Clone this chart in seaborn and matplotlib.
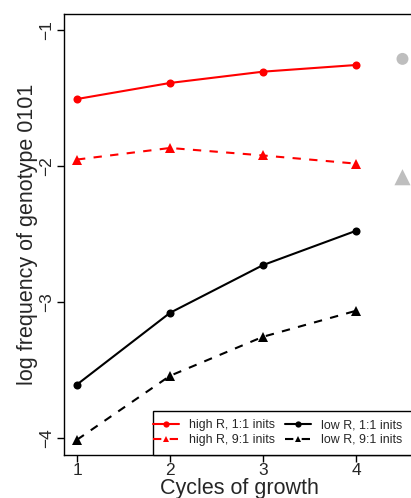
import matplotlib
matplotlib.use("Agg")
import matplotlib.pyplot as plt
from matplotlib.patches import Rectangle
import seaborn as sns
import pandas as pd

# ---- data ----
cycles = [1, 2, 3, 4]
high_r_11 = [-1.505, -1.387, -1.304, -1.255]
high_r_91 = [-1.95, -1.865, -1.92, -1.98]
low_r_11 = [-3.604, -3.077, -2.726, -2.474]
low_r_91 = [-4.01, -3.54, -3.253, -3.062]
ref_x = [4.5, 4.5]
ref_y = [-1.21, -2.08]
labels = ["high R, 1:1 inits", "high R, 9:1 inits", "low R, 1:1 inits", "low R, 9:1 inits"]
xticks = [1, 2, 3, 4]
yticks = [-1, -2, -3, -4]

sns.set_style("ticks")
plt.rcParams["font.family"] = ["Liberation Sans", "DejaVu Sans"]
plt.rcParams["axes.unicode_minus"] = True

fig = plt.figure(figsize=(4.11, 4.98), dpi=100)
ax = fig.add_axes([64 / 411, 43.3 / 498, 351.5 / 411, 440.7 / 498])

series = [
    (high_r_11, "red", "o", "-", 5.8, labels[0]),
    (high_r_91, "red", "^", "--", 7.0, labels[1]),
    (low_r_11, "black", "o", "-", 5.8, labels[2]),
    (low_r_91, "black", "^", "--", 7.0, labels[3]),
]
for vals, col, mk, ls, ms, lab in series:
    df = pd.DataFrame({"cycle": cycles, "val": vals})
    sns.lineplot(data=df, x="cycle", y="val", color=col, marker=mk, linestyle=ls,
                 markersize=ms, markeredgewidth=0, linewidth=1.5, label=lab, ax=ax)
    if ls == "--":
        ax.lines[-1].set_linestyle((0, (4, 4)))

sns.scatterplot(x=ref_x[:1], y=ref_y[:1], marker="o", s=74, color="#BEBEBE",
                edgecolor="none", ax=ax, legend=False)
sns.scatterplot(x=ref_x[1:], y=ref_y[1:], marker="^", s=135, color="#BEBEBE",
                edgecolor="none", ax=ax, legend=False)

ax.set_xlim(0.86, 4.64)
ax.set_ylim(-4.12, -0.88)
ax.set_xticks(xticks)
ax.set_xticklabels([str(t) for t in xticks], fontsize=12.5)
ax.set_yticks(yticks)
ax.set_yticklabels([str(t).replace("-", "\u2212") for t in yticks], fontsize=12.5,
                   rotation=90, va="center")
ax.tick_params(axis="both", direction="out", length=5, width=1, color="black")
ax.tick_params(axis="y", pad=2)
ax.tick_params(axis="x", pad=1)
ax.set_xlabel("Cycles of growth", fontsize=15.5, labelpad=0)
ax.set_ylabel("log frequency of genotype 0101", fontsize=15.5, labelpad=1)
for side in ["left", "top", "bottom", "right"]:
    ax.spines[side].set_color("black")
    ax.spines[side].set_linewidth(1.0)

# legend box (R style: box flush with the plot bottom)
box = Rectangle((0.252, 0.0), 0.8, 44 / 440.7, transform=ax.transAxes,
                facecolor="white", edgecolor="black", linewidth=1.0,
                zorder=4.5, clip_on=False)
ax.add_patch(box)

handles, labs = ax.get_legend_handles_labels()
for h in handles:
    if h.get_linestyle() == "--":
        h.set_linestyle((0, (4, 4)))
leg = ax.legend(handles, labs, ncol=2, loc="center left",
                bbox_to_anchor=(0.2545, 22 / 440.7),
                borderaxespad=0, fontsize=8.9, frameon=False,
                handlelength=2.1, handletextpad=0.8,
                columnspacing=0.8, labelspacing=0.2, borderpad=0, numpoints=1)
leg.set_zorder(5)
for h in leg.legend_handles:
    h.set_markersize(4.5)

fig.savefig("out.png", dpi=100)
